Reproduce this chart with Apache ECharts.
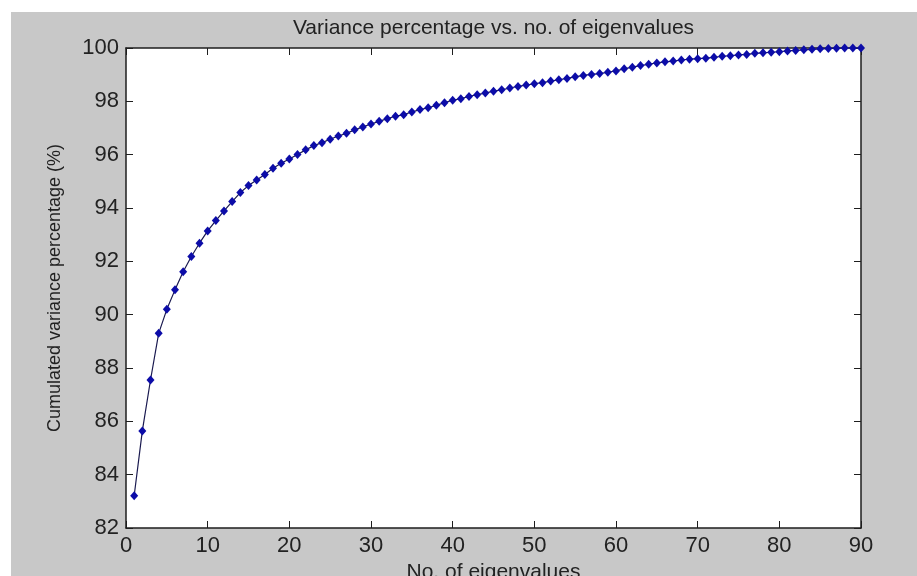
<!DOCTYPE html>
<html>
<head>
<meta charset="utf-8">
<script src="https://cdn.jsdelivr.net/npm/echarts@6/dist/echarts.min.js"></script>
<style>
  html, body { margin: 0; padding: 0; background: #ffffff; }
  #chart { position: absolute; left: 11px; top: 12px; width: 906px; height: 564px; }
</style>
</head>
<body>
<div id="chart"></div>
<script>
// number of eigenvalues kept (1..90)
var eigenNo = [];
for (var i = 1; i <= 90; i++) eigenNo.push(i);

// cumulated variance percentage
var cumVariance = [
  83.21, 85.64, 87.55, 89.30, 90.20, 90.93, 91.61, 92.18, 92.68, 93.14,
  93.53, 93.89, 94.24, 94.58, 94.84, 95.05, 95.26, 95.49, 95.68, 95.84,
  96.01, 96.18, 96.34, 96.45, 96.58, 96.70, 96.80, 96.93, 97.04, 97.15,
  97.25, 97.35, 97.44, 97.50, 97.60, 97.69, 97.76, 97.85, 97.95, 98.04,
  98.10, 98.18, 98.25, 98.31, 98.38, 98.43, 98.50, 98.56, 98.61, 98.66,
  98.70, 98.76, 98.81, 98.86, 98.92, 98.97, 99.01, 99.04, 99.09, 99.14,
  99.22, 99.28, 99.34, 99.39, 99.44, 99.48, 99.51, 99.55, 99.58, 99.60,
  99.62, 99.65, 99.69, 99.71, 99.74, 99.76, 99.80, 99.82, 99.84, 99.86,
  99.89, 99.91, 99.93, 99.95, 99.97, 99.98, 99.99, 100.0, 100.0, 100.0
];

var titleText = 'Variance percentage vs. no. of eigenvalues';
var xName = 'No. of eigenvalues';
var yName = 'Cumulated variance percentage (%)';

var points = [];
for (var k = 0; k < eigenNo.length; k++) points.push([eigenNo[k], cumVariance[k]]);

var font = 'Liberation Sans, Arial, sans-serif';
var axisCol = '#1e1e1e';
var txtCol = '#222222';

var myChart = echarts.init(document.getElementById('chart'), null, { renderer: 'canvas' });

var option = {
  backgroundColor: '#c8c8c8',
  animation: false,
  grid: {
    left: 115, right: 56, top: 36, bottom: 48,
    outerBoundsMode: 'none',
    containLabel: false,
    show: true, backgroundColor: '#ffffff', borderWidth: 0
  },
  xAxis: [
    {
      type: 'value', position: 'bottom', min: 0, max: 90, interval: 10,
      name: xName, nameLocation: 'middle', nameGap: 33,
      nameTextStyle: { fontFamily: font, fontSize: 21, color: txtCol },
      axisLine: { show: true, onZero: false, lineStyle: { color: axisCol, width: 1.5 } },
      axisTick: { show: true, inside: true, length: 7, lineStyle: { color: axisCol } },
      axisLabel: { fontFamily: font, fontSize: 22, color: txtCol, margin: 7 },
      splitLine: { show: false }
    },
    {
      type: 'value', position: 'top', min: 0, max: 90, interval: 10,
      name: titleText, nameLocation: 'middle', nameGap: 9,
      nameTextStyle: { fontFamily: font, fontSize: 21, color: txtCol },
      axisLine: { show: true, onZero: false, lineStyle: { color: axisCol, width: 1.5 } },
      axisTick: { show: true, inside: true, length: 7, lineStyle: { color: axisCol } },
      axisLabel: { show: false },
      splitLine: { show: false }
    }
  ],
  yAxis: [
    {
      type: 'value', position: 'left', min: 82, max: 100, interval: 2,
      name: yName, nameLocation: 'middle', nameGap: 62,
      nameTextStyle: { fontFamily: font, fontSize: 18, color: txtCol },
      axisLine: { show: true, onZero: false, lineStyle: { color: axisCol, width: 1.5 } },
      axisTick: { show: true, inside: true, length: 7, lineStyle: { color: axisCol } },
      axisLabel: { fontFamily: font, fontSize: 22, color: txtCol, margin: 7 },
      splitLine: { show: false }
    },
    {
      type: 'value', position: 'right', min: 82, max: 100, interval: 2,
      axisLine: { show: true, onZero: false, lineStyle: { color: axisCol, width: 1.5 } },
      axisTick: { show: true, inside: true, length: 7, lineStyle: { color: axisCol } },
      axisLabel: { show: false },
      splitLine: { show: false }
    }
  ],
  series: [
    {
      type: 'line',
      data: points,
      xAxisIndex: 0,
      yAxisIndex: 0,
      symbol: 'diamond',
      symbolSize: [8, 9],
      showAllSymbol: true,
      lineStyle: { color: '#1a1a50', width: 1.2 },
      itemStyle: { color: '#0c0ca8', borderWidth: 0 }
    }
  ]
};

myChart.setOption(option);
</script>
</body>
</html>
